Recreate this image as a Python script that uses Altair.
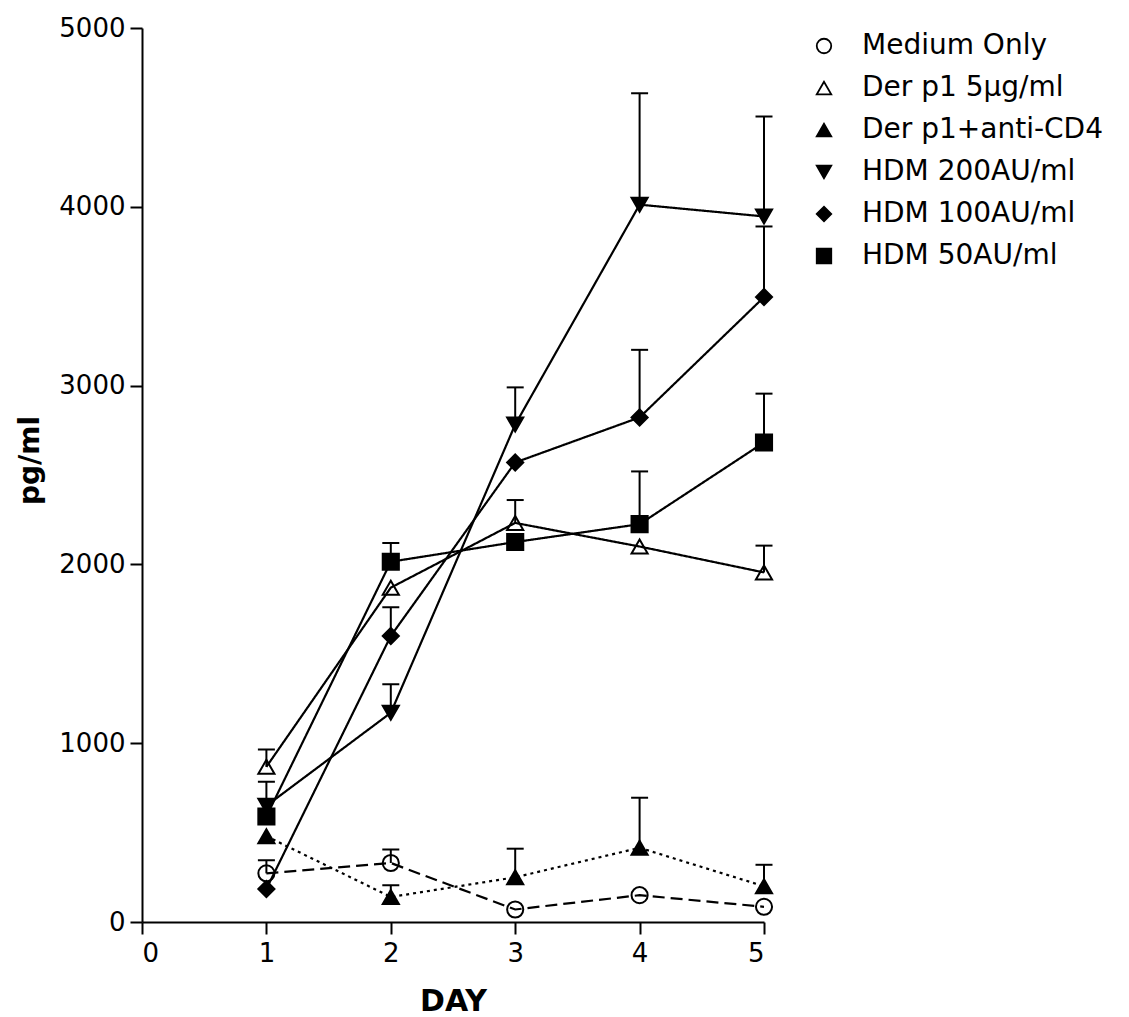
import altair as alt
import pandas as pd

days = [1, 2, 3, 4, 5]
series = ["Medium Only", "Der p1 5µg/ml", "Der p1+anti-CD4", "HDM 200AU/ml", "HDM 100AU/ml", "HDM 50AU/ml"]
medium = [272, 330, 70, 150, 85]
medium_err = [345, 405, None, None, None]
derp1 = [868, 1870, 2232, 2100, 1955]
derp1_err = [965, None, 2360, None, 2105]
anticd4 = [480, 140, 250, 415, 200]
anticd4_err = [None, 205, 410, 695, 320]
hdm200 = [650, 1170, 2782, 4012, 3946]
hdm200_err = [None, 1330, 2990, 4635, 4505]
hdm100 = [185, 1600, 2570, 2822, 3495]
hdm100_err = [None, 1760, None, 3200, 3890]
hdm50 = [590, 2015, 2125, 2225, 2682]
hdm50_err = [785, 2120, None, 2520, 2955]

values = [medium, derp1, anticd4, hdm200, hdm100, hdm50]
errs = [medium_err, derp1_err, anticd4_err, hdm200_err, hdm100_err, hdm50_err]

rows = []
for s, v, e in zip(series, values, errs):
    for d, val, er in zip(days, v, e):
        rows.append({"series": s, "style": s + " line", "day": d, "value": val, "err": er})
df = pd.DataFrame(rows)
df_err = df.dropna(subset=["err"])

FONT = "DejaVu Sans"
xscale = alt.Scale(domain=[0, 5], nice=False)
yscale = alt.Scale(domain=[0, 5000], nice=False)

styles = [s + " line" for s in series]
shape_scale = alt.Scale(domain=series, range=["circle", "triangle-up", "triangle-up", "triangle-down", "diamond", "square"])
fill_scale = alt.Scale(domain=series, range=["transparent", "transparent", "black", "black", "black", "black"])
stroke_scale = alt.Scale(domain=series, range=["black"] * 6)
dash_scale = alt.Scale(domain=styles, range=[[12, 6], [1, 0], [3, 4], [1, 0], [1, 0], [1, 0]])

x_enc = alt.X("day:Q", scale=xscale, title="DAY",
              axis=alt.Axis(values=[0, 1, 2, 3, 4, 5], format="d", grid=False, domainColor="black",
                            domainWidth=2, tickColor="black", tickWidth=2, tickSize=12,
                            labelFont=FONT, labelFontSize=26, labelColor="black", labelPadding=6,
                            titleFont=FONT, titleFontSize=30, titleFontWeight="bold", titleColor="black",
                            titlePadding=20))
y_enc = alt.Y("value:Q", scale=yscale, title="pg/ml",
              axis=alt.Axis(values=[0, 1000, 2000, 3000, 4000, 5000], format="d", grid=False,
                            domainColor="black", domainWidth=2, tickColor="black", tickWidth=2, tickSize=12,
                            labelFont=FONT, labelFontSize=26, labelColor="black", labelPadding=5,
                            titleFont=FONT, titleFontSize=28, titleFontWeight="bold", titleColor="black",
                            titleY=432, titlePadding=14))

lines = alt.Chart(df).mark_line(color="black", strokeWidth=2.2).encode(
    x=x_enc, y=y_enc, detail="series:N",
    strokeDash=alt.StrokeDash("style:N", scale=dash_scale, legend=None),
)

err_rules = alt.Chart(df_err).mark_rule(color="black", strokeWidth=2, opacity=1).encode(
    x="day:Q", y="value:Q", y2="err:Q"
)
err_caps = alt.Chart(df_err).mark_tick(color="black", thickness=2, size=17, orient="horizontal",
                                       opacity=1).encode(
    x="day:Q", y="err:Q"
)

legend = alt.Legend(orient="none", legendX=668, legendY=4, title=None,
                    labelFont=FONT, labelFontSize=28, labelColor="black",
                    labelLimit=500, labelOffset=24, symbolSize=210,
                    symbolStrokeColor="black", symbolStrokeWidth=1.8,
                    rowPadding=14, padding=0)

points = alt.Chart(df).mark_point(filled=True, size=260, strokeWidth=2, opacity=1).encode(
    x="day:Q", y="value:Q",
    shape=alt.Shape("series:N", scale=shape_scale, legend=legend),
    fill=alt.Fill("series:N", scale=fill_scale, legend=legend),
    stroke=alt.Stroke("series:N", scale=stroke_scale, legend=legend),
)

chart = alt.layer(lines, err_rules, err_caps, points).properties(
    width=622, height=894,
    autosize=alt.AutoSizeParams(type="none"),
    padding={"left": 134, "top": 20, "right": 350, "bottom": 100},
    background="white",
).configure_view(stroke=None)

chart.save("out.html", embed_options={"renderer": "svg", "actions": False})
